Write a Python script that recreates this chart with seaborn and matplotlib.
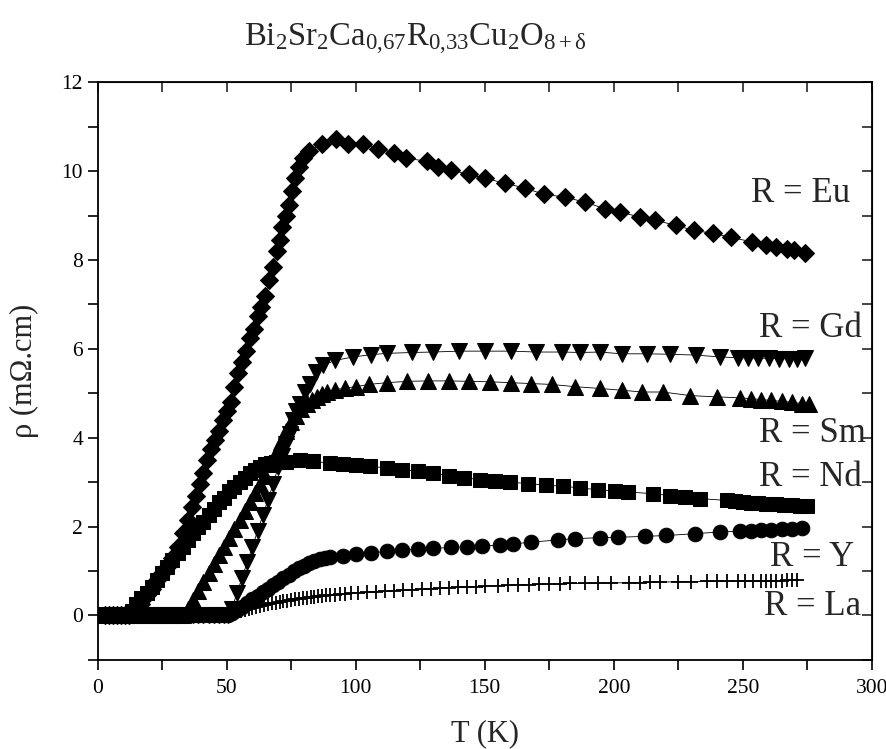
import matplotlib
matplotlib.use('Agg')
import matplotlib.pyplot as plt
import seaborn as sns
from matplotlib.ticker import MultipleLocator

# R = Eu (diamantes)
T_eu = [3, 4.5, 6, 7.5, 9, 10.5, 12, 13.5, 15, 17, 19, 21, 23, 25, 27, 29, 31, 33, 35,
        36.5, 38, 39.5, 41, 42.5, 44, 45.5, 47, 48.5, 50, 51.5, 53, 54.5, 56, 57.5, 59,
        60.5, 62, 63.5, 65, 66.5, 68, 69.5, 70.5, 71.5, 73, 74, 75.5, 76.5, 78, 79.5,
        82, 87, 92.5, 97, 103, 108.5, 115, 119.5, 127.5, 132, 137, 144, 150, 158,
        165.5, 173, 181, 189, 196.5, 202.5, 210, 216, 224, 231, 238.5, 245.5, 253.5,
        259, 263, 267, 270, 274]
rho_eu = [0, 0, 0, 0, 0, 0, 0.02, 0.05, 0.1, 0.25, 0.45, 0.6, 0.8, 0.95, 1.1, 1.3,
          1.55, 1.85, 2.15, 2.45, 2.7, 2.95, 3.2, 3.5, 3.75, 3.95, 4.15, 4.4, 4.6, 4.8,
          5.15, 5.45, 5.7, 5.95, 6.25, 6.45, 6.75, 6.95, 7.2, 7.55, 7.85, 8.2, 8.45,
          8.75, 9.0, 9.25, 9.55, 9.85, 10.1, 10.3, 10.45, 10.62, 10.72, 10.62, 10.62,
          10.5, 10.42, 10.3, 10.22, 10.1, 10.02, 9.93, 9.84, 9.73, 9.62, 9.48, 9.42,
          9.3, 9.16, 9.08, 8.97, 8.9, 8.78, 8.67, 8.6, 8.51, 8.41, 8.33, 8.3, 8.26,
          8.22, 8.16]

# R = Gd (triangulos hacia abajo)
T_gd = [3, 5, 7, 9, 11, 13, 15, 17, 19, 21, 23, 25, 27, 29, 31, 33, 35, 37, 39, 41,
        43, 45, 47, 49, 50.5, 52, 54, 56, 58, 60, 62, 64, 66, 68, 70, 71.5, 73, 74.4,
        75.7, 77, 78.3, 80.2, 82.2, 84.8, 87.3, 92, 99, 106, 112, 122, 130, 140, 150,
        160, 170, 180, 187, 194.6, 203, 212.7, 221.7, 232, 241, 248, 252, 256, 260,
        264, 268, 271, 274]
rho_gd = [0, 0, 0, 0, 0, 0, 0, 0, 0, 0, 0, 0, 0, 0, 0, 0, 0, 0, 0, 0,
          0, 0, 0, 0, 0.02, 0.15, 0.5, 0.85, 1.2, 1.55, 1.9, 2.25, 2.6, 2.95, 3.35,
          3.6, 3.85, 4.09, 4.39, 4.6, 4.77, 5.03, 5.22, 5.48, 5.63, 5.74, 5.82, 5.87,
          5.9, 5.92, 5.93, 5.95, 5.95, 5.95, 5.93, 5.93, 5.92, 5.93, 5.89, 5.89, 5.88,
          5.86, 5.82, 5.8, 5.8, 5.79, 5.79, 5.78, 5.78, 5.78, 5.79]

# R = Sm (triangulos hacia arriba)
T_sm = [3, 5, 7, 9, 11, 13, 15, 17, 19, 21, 23, 25, 27, 29, 31, 33, 35, 37, 39, 41,
        43, 45, 47, 49, 51, 53, 55, 57, 59, 61, 63, 65, 67, 69, 71, 73, 75, 77, 79,
        81, 83, 85, 87, 89, 92, 96, 100, 105, 112, 120, 128, 136, 144, 152, 160, 168,
        176, 185, 194.6, 203, 211, 219, 229.5, 239.8, 249, 253, 257, 261, 265, 269,
        273, 275.5]
rho_sm = [0, 0, 0, 0, 0, 0, 0, 0, 0, 0, 0, 0, 0, 0, 0, 0.02, 0.15, 0.35, 0.55,
          0.75, 0.95, 1.15, 1.35, 1.55, 1.75, 1.95, 2.15, 2.35, 2.55, 2.75, 2.95,
          3.15, 3.4, 3.65, 3.9, 4.15, 4.35, 4.5, 4.65, 4.75, 4.85, 4.92, 4.98, 5.03,
          5.08, 5.12, 5.15, 5.2, 5.24, 5.27, 5.28, 5.28, 5.27, 5.26, 5.24, 5.22, 5.2,
          5.15, 5.11, 5.07, 5.03, 5.03, 4.95, 4.92, 4.9, 4.88, 4.86, 4.84, 4.82, 4.8,
          4.77, 4.75]

# R = Nd (cuadrados)
T_nd = [3, 4.5, 6, 7.5, 9, 10.5, 12, 13.5, 15, 17, 19, 21, 23, 25, 27, 29, 31, 33,
        35, 37, 39, 41, 43, 45, 47, 49, 51, 53, 55, 57, 59, 61, 63, 65, 67, 69, 71,
        73.1, 78.3, 83.5, 90, 95, 100, 105.4, 112, 118, 124, 130, 136, 142, 148, 154,
        159.7, 166.8, 173.9, 180.4, 186.8, 193.9, 200.4, 205.5, 215.2, 221.7, 227.5,
        233.3, 243.7, 247, 250, 253, 256, 259, 263, 266, 269, 272, 275]
rho_nd = [0, 0, 0, 0, 0, 0, 0, 0.1, 0.25, 0.4, 0.5, 0.65, 0.8, 0.95, 1.1, 1.25, 1.4,
          1.55, 1.7, 1.85, 2.0, 2.1, 2.25, 2.4, 2.55, 2.65, 2.8, 2.9, 3.0, 3.1, 3.2,
          3.28, 3.35, 3.4, 3.43, 3.45, 3.46, 3.45, 3.49, 3.47, 3.43, 3.4, 3.38, 3.36,
          3.32, 3.28, 3.25, 3.2, 3.15, 3.1, 3.06, 3.03, 3.0, 2.97, 2.93, 2.91, 2.87,
          2.83, 2.8, 2.78, 2.74, 2.7, 2.66, 2.63, 2.59, 2.57, 2.55, 2.54, 2.53, 2.52,
          2.5, 2.49, 2.48, 2.47, 2.46]

# R = Y (circulos)
T_y = [3, 5, 7, 9, 11, 13, 15, 17, 19, 21, 23, 25, 27, 29, 31, 33, 35, 37, 39, 41,
       43, 45, 47, 49, 50.5, 52, 54, 56, 58, 60, 62, 64, 66, 68, 70, 72, 74, 76, 78,
       80, 82, 84, 86, 88, 90, 95, 100, 106, 112, 118, 124, 130, 137, 143, 149, 155.8,
       161, 168, 178.4, 185, 194.6, 201.7, 212, 220.4, 231.4, 241, 249, 253, 257, 261,
       265, 269, 273]
rho_y = [0, 0, 0, 0, 0, 0, 0, 0, 0, 0, 0, 0, 0, 0, 0, 0, 0, 0, 0, 0,
         0, 0, 0, 0, 0.02, 0.05, 0.12, 0.2, 0.28, 0.36, 0.44, 0.52, 0.6, 0.68, 0.76,
         0.84, 0.92, 0.99, 1.06, 1.12, 1.17, 1.22, 1.26, 1.29, 1.31, 1.34, 1.38, 1.41,
         1.44, 1.47, 1.49, 1.51, 1.53, 1.55, 1.57, 1.58, 1.61, 1.65, 1.7, 1.73, 1.75,
         1.76, 1.78, 1.8, 1.84, 1.88, 1.9, 1.91, 1.92, 1.93, 1.94, 1.95, 1.96]

# R = La (cruces)
T_la = [3, 5, 7, 9, 11, 13, 15, 17, 19, 21, 23, 25, 27, 29, 31, 33, 35, 37, 39, 41,
        43, 45, 47, 49, 51, 52.5, 54, 55.5, 57, 58.5, 60, 61.5, 63, 64.5, 66, 67.5, 69,
        70.5, 72, 73.5, 75, 76.5, 78, 79.5, 81, 82.5, 84, 85.5, 87, 88.5, 90, 92, 94,
        96, 98, 101, 104.5, 108, 111.5, 115, 118.5, 122, 125.5, 129, 132.5, 136,
        139.5, 143, 146.5, 150, 155, 159, 163, 167, 171, 175, 179, 183, 189, 194,
        199, 206, 210, 214, 218, 225, 230, 236, 240, 244, 248, 251, 254, 257, 259,
        261, 263, 265, 267, 269, 271]
rho_la = [0, 0, 0, 0, 0, 0, 0, 0, 0, 0, 0, 0, 0, 0, 0, 0, 0, 0, 0, 0,
          0, 0, 0, 0, 0.01, 0.04, 0.07, 0.1, 0.12, 0.15, 0.17, 0.19, 0.21, 0.23, 0.25,
          0.27, 0.29, 0.3, 0.32, 0.33, 0.35, 0.36, 0.37, 0.39, 0.4, 0.41, 0.42, 0.43,
          0.44, 0.45, 0.46, 0.47, 0.48, 0.49, 0.5, 0.51, 0.52, 0.53, 0.55, 0.56, 0.57,
          0.58, 0.59, 0.6, 0.61, 0.62, 0.63, 0.64, 0.65, 0.66, 0.67, 0.68, 0.69, 0.69,
          0.7, 0.71, 0.71, 0.72, 0.72, 0.73, 0.73, 0.74, 0.74, 0.75, 0.75, 0.76, 0.76,
          0.77, 0.77, 0.77, 0.78, 0.78, 0.78, 0.78, 0.78, 0.78, 0.78, 0.78, 0.79, 0.79,
          0.79]

etiquetas = ['R = Eu', 'R = Gd', 'R = Sm', 'R = Nd', 'R = Y', 'R = La']
etiq_x = [291.5, 296, 297.5, 296, 293, 296]
etiq_y = [9.5, 6.45, 4.1, 3.1, 1.3, 0.2]

sns.set_style('ticks')
plt.rcParams['font.family'] = ['Liberation Serif', 'DejaVu Serif']
plt.rcParams['mathtext.fontset'] = 'custom'
plt.rcParams['mathtext.rm'] = 'Liberation Serif'
plt.rcParams['mathtext.it'] = 'Liberation Serif:italic'

fig = plt.figure(figsize=(8.87, 7.49), dpi=100)
ax = fig.add_axes([0.110, 0.119, 0.873, 0.771])

series = [
    (T_eu, rho_eu, 'D', 9.5, 0.75),
    (T_gd, rho_gd, 'v', 11, 0.75),
    (T_sm, rho_sm, '^', 11, 0.75),
    (T_nd, rho_nd, 's', 10, 0.75),
    (T_y, rho_y, 'o', 10.5, 0.75),
    (T_la, rho_la, '+', 10, 1.3),
]
for T, rho, m, ms, mew in series:
    sns.lineplot(x=T, y=rho, marker=m, markersize=ms, color='black',
                 markeredgecolor='black', markeredgewidth=mew, linewidth=0.6,
                 sort=False, ax=ax)

for texto, x, y in zip(etiquetas, etiq_x, etiq_y):
    ax.text(x, y, texto, ha='right', va='center', fontsize=25)

ax.set_xlim(0, 300)
ax.set_ylim(-1, 12)
ax.xaxis.set_major_locator(MultipleLocator(50))
ax.xaxis.set_minor_locator(MultipleLocator(25))
ax.yaxis.set_major_locator(MultipleLocator(2))
ax.yaxis.set_minor_locator(MultipleLocator(1))
ax.tick_params(which='both', direction='out', length=7, width=1.2, labelsize=15.5,
               color='black', labelcolor='black')
ax.tick_params(axis='x', pad=7)
for s in ax.spines.values():
    s.set_linewidth(1.3)
    s.set_color('black')

# ticks interiores arriba y a la derecha
arriba = ax.secondary_xaxis('top')
arriba.xaxis.set_major_locator(MultipleLocator(25))
arriba.tick_params(direction='in', length=7, width=1.2, labeltop=False)
derecha = ax.secondary_yaxis('right')
derecha.yaxis.set_major_locator(MultipleLocator(1))
derecha.tick_params(direction='in', length=7, width=1.2, labelright=False)

ax.set_xlabel('T (K)', fontsize=22, labelpad=15)
ax.set_ylabel('ρ (mΩ.cm)', fontsize=22, labelpad=16)

fig.text(0.468, 0.948, r'$\mathrm{Bi_2Sr_2Ca_{0{,}67}R_{0{,}33}Cu_2O_{8+\delta}}$',
         ha='center', va='center', fontsize=23.5)

plt.savefig('out.png', dpi=100)
plt.close()
